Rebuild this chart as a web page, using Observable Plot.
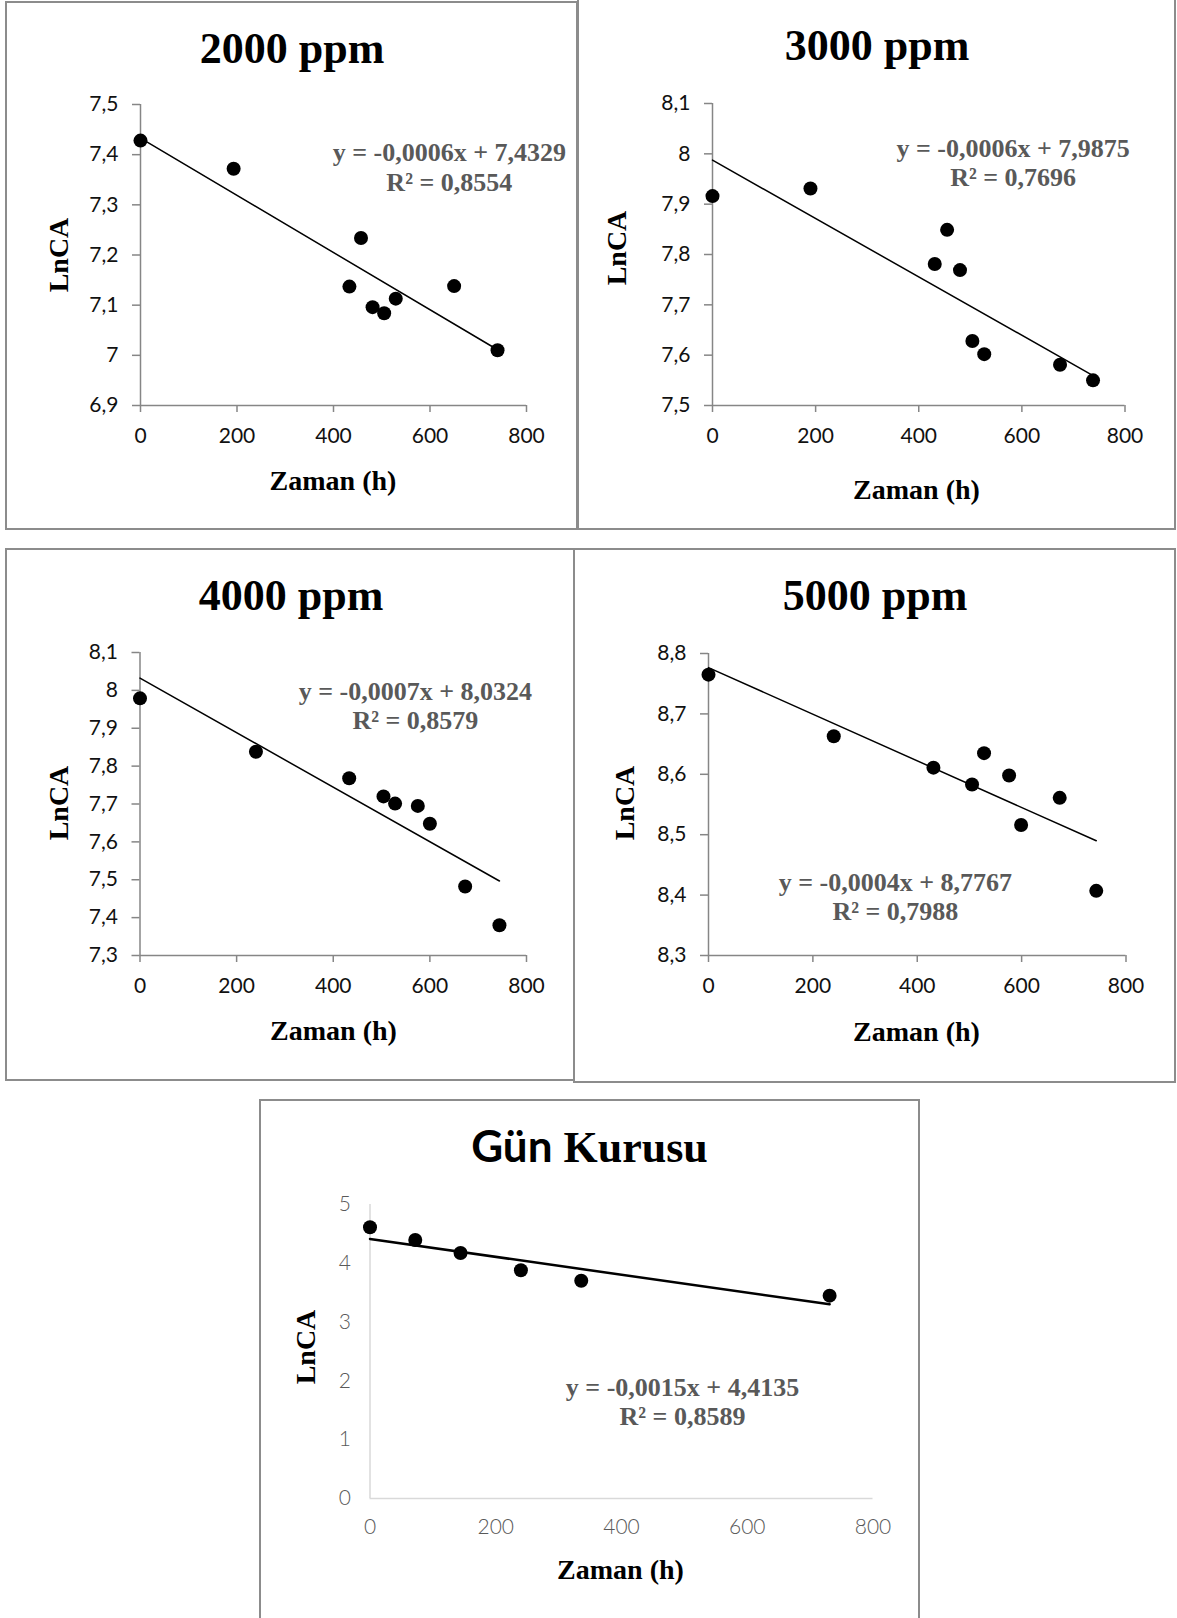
<!DOCTYPE html>
<html>
<head>
<meta charset="utf-8">
<script src="https://cdn.jsdelivr.net/npm/d3@7"></script>
<script src="https://cdn.jsdelivr.net/npm/@observablehq/plot@0.6"></script>
<style>
  html, body { margin: 0; padding: 0; background: #fff; }
  #page { position: relative; width: 1177px; height: 1618px; overflow: hidden; background: #fff; }
  .frame { position: absolute; box-sizing: border-box; border: 2px solid #8c8c8c; }
  .chart { position: absolute; }
  .lbl {
    position: absolute; white-space: nowrap; line-height: 1; color: #000;
    font-family: "Liberation Serif", "Times New Roman", serif; font-weight: bold;
    transform: translate(-50%, -50%);
  }
  .title { font-size: 44px; }
  .axt { font-size: 28px; }
  .rot { transform: translate(-50%, -50%) rotate(-90deg); }
  .sans { font-family: Lato, "Open Sans", sans-serif; }
</style>
</head>
<body>
<div id="page"></div>
<script>
// Drying time (h) and ln of CA content for each treatment
const times2000 = [0, 193, 433, 457, 481, 505, 529, 650, 740];
const lnca2000  = [7.428, 7.372, 7.137, 7.234, 7.096, 7.084, 7.113, 7.138, 7.010];

const times3000 = [0, 190, 431, 455, 480, 504, 527, 674, 738];
const lnca3000  = [7.916, 7.931, 7.781, 7.849, 7.769, 7.628, 7.602, 7.581, 7.550];

const times4000 = [0, 240, 433, 504, 528, 575, 600, 673, 744];
const lnca4000  = [7.979, 7.838, 7.768, 7.720, 7.701, 7.695, 7.648, 7.482, 7.380];

const times5000 = [0, 240, 431, 505, 528, 576, 599, 673, 743];
const lnca5000  = [8.765, 8.663, 8.611, 8.583, 8.635, 8.598, 8.516, 8.561, 8.407];

const timesSun = [0, 72, 144, 240, 336, 731];
const lncaSun  = [4.614, 4.395, 4.176, 3.883, 3.704, 3.450];

// Linear trend lines: slope, intercept, R²
const slopes     = [-0.00057, -0.00058, -0.00072, -0.000386, -0.00152];
const intercepts = [7.4329, 7.9875, 8.0324, 8.7767, 4.4135];
const rSquared   = [0.8554, 0.7696, 0.8579, 0.7988, 0.8589];

// Axis ticks
const xTicks = [0, 200, 400, 600, 800];
const yTicks2000 = [6.9, 7, 7.1, 7.2, 7.3, 7.4, 7.5];
const yTicks3000 = [7.5, 7.6, 7.7, 7.8, 7.9, 8, 8.1];
const yTicks4000 = [7.3, 7.4, 7.5, 7.6, 7.7, 7.8, 7.9, 8, 8.1];
const yTicks5000 = [8.3, 8.4, 8.5, 8.6, 8.7, 8.8];
const yTicksSun  = [0, 1, 2, 3, 4, 5];

const titles = ["2000 ppm", "3000 ppm", "4000 ppm", "5000 ppm", "Gün Kurusu"];
const xTitle = "Zaman (h)";
const yTitle = "LnCA";

const comma = d => String(d).replace(".", ",");

// Layout of each panel on the page (box = bordered frame, area = plotting area)
const panels = [
  { t: times2000, v: lnca2000, k: 0, yTicks: yTicks2000,
    box: {x: 5, y: 1, w: 573, h: 529}, area: {x0: 140, x1: 526, y0: 104, y1: 405},
    titleAt: [292, 49], xtAt: [333, 480.5], ytAt: [59, 255], eqAt: [640, 7.376] },
  { t: times3000, v: lnca3000, k: 1, yTicks: yTicks3000,
    box: {x: 577, y: -2, w: 599, h: 532}, area: {x0: 712, x1: 1124.5, y0: 103, y1: 405},
    titleAt: [877, 46], xtAt: [916.5, 489.5], ytAt: [617, 248], eqAt: [583, 7.984] },
  { t: times4000, v: lnca4000, k: 2, yTicks: yTicks4000,
    box: {x: 5, y: 548, w: 570, h: 533}, area: {x0: 139.5, x1: 526, y0: 652, y1: 955},
    titleAt: [291, 596], xtAt: [333.5, 1031], ytAt: [59, 803], eqAt: [570, 7.96] },
  { t: times5000, v: lnca5000, k: 3, yTicks: yTicks5000,
    box: {x: 573, y: 548, w: 603, h: 535}, area: {x0: 708, x1: 1125.5, y0: 653, y1: 955},
    titleAt: [875, 596], xtAt: [916.5, 1032], ytAt: [625, 803], eqAt: [358, 8.398] },
  { t: timesSun, v: lncaSun, k: 4, yTicks: yTicksSun, light: true,
    box: {x: 259, y: 1099, w: 661, h: 522}, area: {x0: 369.5, x1: 872.5, y0: 1204, y1: 1498},
    titleAt: [589.5, 1146], xtAt: [620.5, 1569.5], ytAt: [306, 1347], eqAt: [497, 1.66] }
];

const page = document.getElementById("page");

function addLabel(html, [x, y], cls) {
  const el = document.createElement("div");
  el.className = "lbl " + cls;
  el.innerHTML = html;
  el.style.left = x + "px";
  el.style.top = y + "px";
  page.appendChild(el);
}

for (const p of panels) {
  const {box, area, k} = p;
  const frame = document.createElement("div");
  frame.className = "frame";
  Object.assign(frame.style, {left: box.x + "px", top: box.y + "px", width: box.w + "px", height: box.h + "px"});
  page.appendChild(frame);

  const m = slopes[k], b = intercepts[k], r2 = rSquared[k];
  const data = p.t.map((t, i) => ({t, v: p.v[i]}));
  const trend = d3.extent(p.t).map(t => ({t, v: b + m * t}));
  const eq = `y = ${comma(m.toFixed(4))}x + ${comma(b.toFixed(4))}\nR² = ${comma(r2.toFixed(4))}`;
  const yDomain = d3.extent(p.yTicks);

  const axisColor = p.light ? "#d9d9d9" : "#868686";
  const textColor = p.light ? "#595959" : "#111";
  const tick = p.light ? 0 : 7;

  const chart = Plot.plot({
    width: box.w, height: box.h,
    marginLeft: area.x0 - box.x, marginRight: box.x + box.w - area.x1,
    marginTop: area.y0 - box.y, marginBottom: box.y + box.h - area.y1,
    x: {domain: [0, 800]},
    y: {domain: yDomain},
    style: {fontFamily: "Lato, 'Open Sans', sans-serif", fontSize: "21px", background: "none", overflow: "visible", color: "#000"},
    marks: [
      Plot.axisX(xTicks, {tickSize: tick, tickPadding: p.light ? 21 : 16, stroke: axisColor, strokeWidth: 1.5,
        fill: textColor, tickFormat: d => String(d), label: null, fontWeight: p.light ? 300 : 400}),
      Plot.axisY(p.yTicks, {tickSize: p.light ? 0 : 8, tickPadding: p.light ? 19 : 14, stroke: axisColor, strokeWidth: 1.5,
        fill: textColor, tickFormat: comma, label: null, fontWeight: p.light ? 300 : 400}),
      Plot.ruleX([0], {stroke: axisColor, strokeWidth: 1.5}),
      Plot.ruleY([yDomain[0]], {stroke: axisColor, strokeWidth: 1.5}),
      Plot.line(trend, {x: "t", y: "v", stroke: "#000", strokeWidth: p.light ? 2.5 : 1.5}),
      Plot.dot(data, {x: "t", y: "v", r: 7, fill: "#000"}),
      Plot.text([{x: p.eqAt[0], y: p.eqAt[1], label: eq}], {
        x: "x", y: "y", text: "label", textAnchor: "middle", lineAnchor: "middle", lineHeight: 1.12,
        fontFamily: "'Liberation Serif', 'Times New Roman', serif", fontWeight: "bold", fontSize: 26, fill: "#595959"
      })
    ]
  });
  chart.classList.add("chart");
  chart.style.left = box.x + "px";
  chart.style.top = box.y + "px";
  page.appendChild(chart);

  const title = titles[k];
  if (p.light) {
    const [first, ...rest] = title.split(" ");
    addLabel(`<span class="sans">${first}</span> ${rest.join(" ")}`, p.titleAt, "title");
  } else {
    addLabel(title, p.titleAt, "title");
  }
  addLabel(xTitle, p.xtAt, "axt");
  addLabel(yTitle, p.ytAt, "axt rot");
}
</script>
</body>
</html>
